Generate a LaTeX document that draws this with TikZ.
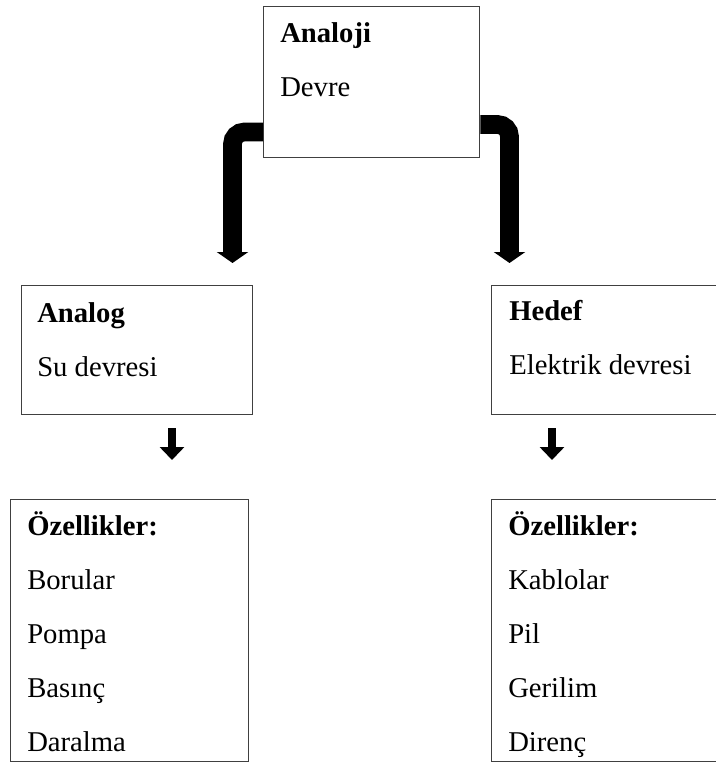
\documentclass[tikz,border=0pt]{standalone}
\usepackage{fontspec}
\setmainfont{Liberation Serif}
\usepackage{tikz}
\usetikzlibrary{arrows.meta, positioning, calc}
\definecolor{boxgray}{RGB}{64, 64, 64}

\tikzset{
  box/.style={draw=boxgray, line width=1.1pt, inner sep=0pt, anchor=north west},
  boxtext/.style={anchor=base west, inner sep=0pt, align=left, font=\fontsize{21.5}{40.5}\selectfont},
  bigarrow/.style={line width=14pt, rounded corners=9pt, -{Triangle[length=8.25pt, width=23.25pt]}},
  smallarrow/.style={line width=6.5pt, -{Triangle[length=9.75pt, width=18pt]}}
}

\begin{document}
\begin{tikzpicture}[x=0.75pt, y=-0.75pt]
  \useasboundingbox (0,0) rectangle (716,771);

  % boxes
  \node[box, minimum width=162pt, minimum height=113.25pt] (top) at (263,6) {};
  \node[box, minimum width=173.25pt, minimum height=96.75pt] (analog) at (21,285) {};
  \node[box, minimum width=187.5pt, minimum height=96.75pt] (hedef) at (491,285) {};
  \node[box, minimum width=178.5pt, minimum height=196.5pt] (ozl) at (9.5,499) {};
  \node[box, minimum width=187.5pt, minimum height=196.5pt] (ozr) at (491,499) {};

  % texts (base = baseline of the last line)
  \node[boxtext] (top-t) at ($(top.north west)+(17,90)$) {\textbf{Analoji}\\Devre};
  \node[boxtext] (analog-t) at ($(analog.north west)+(16,91)$) {\textbf{Analog}\\Su devresi};
  \node[boxtext] (hedef-t) at ($(hedef.north west)+(18,89)$) {\textbf{Hedef}\\Elektrik devresi};
  \node[boxtext] (ozl-t) at ($(ozl.north west)+(17.5,252)$) {\textbf{Özellikler:}\\Borular\\Pompa\\Basınç\\Daralma};
  \node[boxtext] (ozr-t) at ($(ozr.north west)+(17,252)$) {\textbf{Özellikler:}\\Kablolar\\Pil\\Gerilim\\Direnç};

  % arrows
  \draw[bigarrow] ($(top.south west)+(0,-26.5)$) -| ($(analog.north west)+(211.5,-22)$);
  \draw[bigarrow] ($(top.south east)+(0,-34)$) -| ($(hedef.north west)+(18.5,-22)$);
  \draw[smallarrow] ($(analog.south west)+(151,13)$) -- ($(ozl.north west)+(162.5,-39)$);
  \draw[smallarrow] ($(hedef.south west)+(61,13)$) -- ($(ozr.north west)+(61,-39)$);
\end{tikzpicture}
\end{document}
